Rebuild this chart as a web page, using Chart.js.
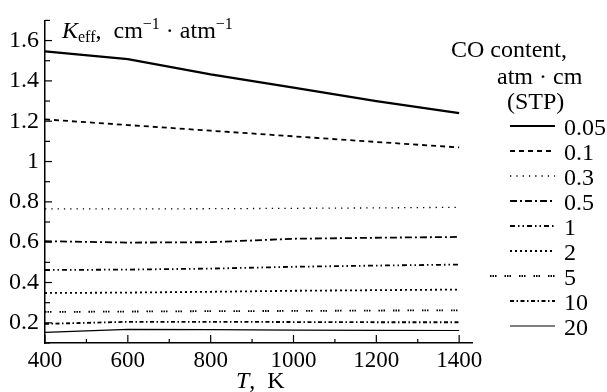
<!DOCTYPE html>
<html>
<head>
<meta charset="utf-8">
<script src="https://cdn.jsdelivr.net/npm/chart.js@4"></script>
<style>
  body { margin: 0; background: #fff; }
  #wrap { width: 607px; height: 392px; }
</style>
</head>
<body>
<div id="wrap"><canvas id="grafico" width="607" height="392"></canvas></div>
<script>
const temperatura = [400, 600, 800, 1000, 1200, 1400];
const conteudos = ['0.05', '0.1', '0.3', '0.5', '1', '2', '5', '10', '20'];
const k005 = [1.546, 1.508, 1.432, 1.367, 1.300, 1.240];
const k01 = [1.209, 1.181, 1.153, 1.125, 1.097, 1.070];
const k03 = [0.765, 0.765, 0.766, 0.768, 0.770, 0.773];
const k05 = [0.605, 0.598, 0.600, 0.617, 0.622, 0.626];
const k1 = [0.462, 0.464, 0.469, 0.478, 0.484, 0.489];
const k2 = [0.348, 0.350, 0.354, 0.359, 0.362, 0.365];
const k5 = [0.254, 0.256, 0.258, 0.259, 0.261, 0.262];
const k10 = [0.195, 0.205, 0.205, 0.204, 0.203, 0.203];
const k20 = [0.153, 0.168, 0.166, 0.164, 0.163, 0.162];
const xTicks = [400, 600, 800, 1000, 1200, 1400];
const xTickLabels = ['400', '600', '800', '1000', '1200', '1400'];
const yTicks = [0.2, 0.4, 0.6, 0.8, 1.0, 1.2, 1.4, 1.6];
const yTickLabels = ['0.2', '0.4', '0.6', '0.8', '1', '1.2', '1.4', '1.6'];

const series = [k005, k01, k03, k05, k1, k2, k5, k10, k20];
const estilos = [
  { w: 2.2, dash: [] },
  { w: 1.8, dash: [5, 4] },
  { w: 1.3, dash: [1.3, 5] },
  { w: 1.8, dash: [7, 3, 2, 3] },
  { w: 1.8, dash: [5, 3, 1.5, 3, 1.5, 3] },
  { w: 1.8, dash: [2, 3] },
  { w: 1.8, dash: [1.5, 1, 1.5, 1, 1.5, 8] },
  { w: 1.8, dash: [4, 2.5, 1.5, 2.5] },
  { w: 1.2, dash: [] }
];

const serif = "'Liberation Serif', 'DejaVu Serif', serif";

function texto(ctx, partes, x, y) {
  partes.forEach(p => {
    ctx.font = (p.it ? 'italic ' : '') + p.s + 'px ' + serif;
    ctx.fillText(p.t, x, y + (p.dy || 0));
    x += ctx.measureText(p.t).width;
  });
}

const extras = {
  id: 'extras',
  afterDraw(chart) {
    const ctx = chart.ctx;
    const xs = chart.scales.x, ys = chart.scales.y;
    const a = chart.chartArea;
    ctx.save();
    ctx.strokeStyle = '#000';
    ctx.lineWidth = 1.2;
    ctx.setLineDash([]);
    // marcas internas dos eixos
    for (let v = 400; v <= 1400; v += 100) {
      const px = xs.getPixelForValue(v);
      const len = v % 200 === 0 ? 8 : 4;
      ctx.beginPath();
      ctx.moveTo(px, a.bottom);
      ctx.lineTo(px, a.bottom - len);
      ctx.stroke();
    }
    for (let i = 1; i <= 17; i++) {
      const v = i / 10;
      const py = ys.getPixelForValue(v);
      const len = i % 2 === 0 ? 7 : 5;
      ctx.beginPath();
      ctx.moveTo(a.left, py);
      ctx.lineTo(a.left + len, py);
      ctx.stroke();
    }

    ctx.fillStyle = '#000';
    ctx.textBaseline = 'alphabetic';
    ctx.textAlign = 'left';
    texto(ctx, [
      { t: 'K', s: 24, it: true },
      { t: 'eff', s: 16, dy: 4 },
      { t: ',  cm', s: 24 },
      { t: '\u22121', s: 16, dy: -9 },
      { t: ' \u00b7 atm', s: 24 },
      { t: '\u22121', s: 16, dy: -9 }
    ], 62, 38);
    texto(ctx, [
      { t: 'T', s: 24, it: true },
      { t: ',  K', s: 24 }
    ], 236, 388);

    // legenda
    ctx.font = '24px ' + serif;
    ctx.fillText('CO content,', 451, 57);
    ctx.fillText('atm \u00b7 cm', 497, 84);
    ctx.fillText('(STP)', 507, 109);
    ctx.textBaseline = 'middle';
    conteudos.forEach((c, i) => {
      const yc = 129 + i * 25;
      const e = estilos[i];
      ctx.lineWidth = e.w;
      ctx.setLineDash(e.dash);
      ctx.beginPath();
      ctx.moveTo(i === 6 ? 490 : 510, yc - 3);
      ctx.lineTo(555, yc - 3);
      ctx.stroke();
      ctx.fillText(c, 564, yc);
    });
    ctx.restore();
  }
};

new Chart(grafico, {
  type: 'line',
  data: {
    datasets: series.map((s, i) => ({
      label: conteudos[i],
      data: temperatura.map((t, j) => ({ x: t, y: s[j] })),
      borderColor: '#000',
      borderWidth: estilos[i].w,
      borderDash: estilos[i].dash,
      pointRadius: 0,
      tension: 0,
      fill: false
    }))
  },
  options: {
    responsive: false,
    animation: false,
    devicePixelRatio: 1,
    layout: { padding: { top: 12, right: 135, left: 0, bottom: 0 } },
    plugins: { legend: { display: false }, tooltip: { enabled: false } },
    scales: {
      x: {
        type: 'linear',
        min: 400,
        max: 1431,
        afterBuildTicks: s => { s.ticks = xTicks.map(v => ({ value: v })); },
        afterFit: s => { s.height = 49; },
        grid: { display: false, drawTicks: false },
        border: { display: true, color: '#000', width: 1.5 },
        ticks: {
          color: '#000',
          font: { family: serif, size: 23 },
          padding: 4,
          maxRotation: 0,
          autoSkip: false,
          callback: (v, i) => xTickLabels[i]
        }
      },
      y: {
        min: 0.1,
        max: 1.7,
        afterBuildTicks: s => { s.ticks = yTicks.map(v => ({ value: v })); },
        afterFit: s => { s.width = 45; },
        grid: { display: false, drawTicks: false },
        border: { display: true, color: '#000', width: 1.5 },
        ticks: {
          color: '#000',
          font: { family: serif, size: 24 },
          padding: 6,
          autoSkip: false,
          callback: (v, i) => yTickLabels[i]
        }
      }
    }
  },
  plugins: [extras]
});
</script>
</body>
</html>
